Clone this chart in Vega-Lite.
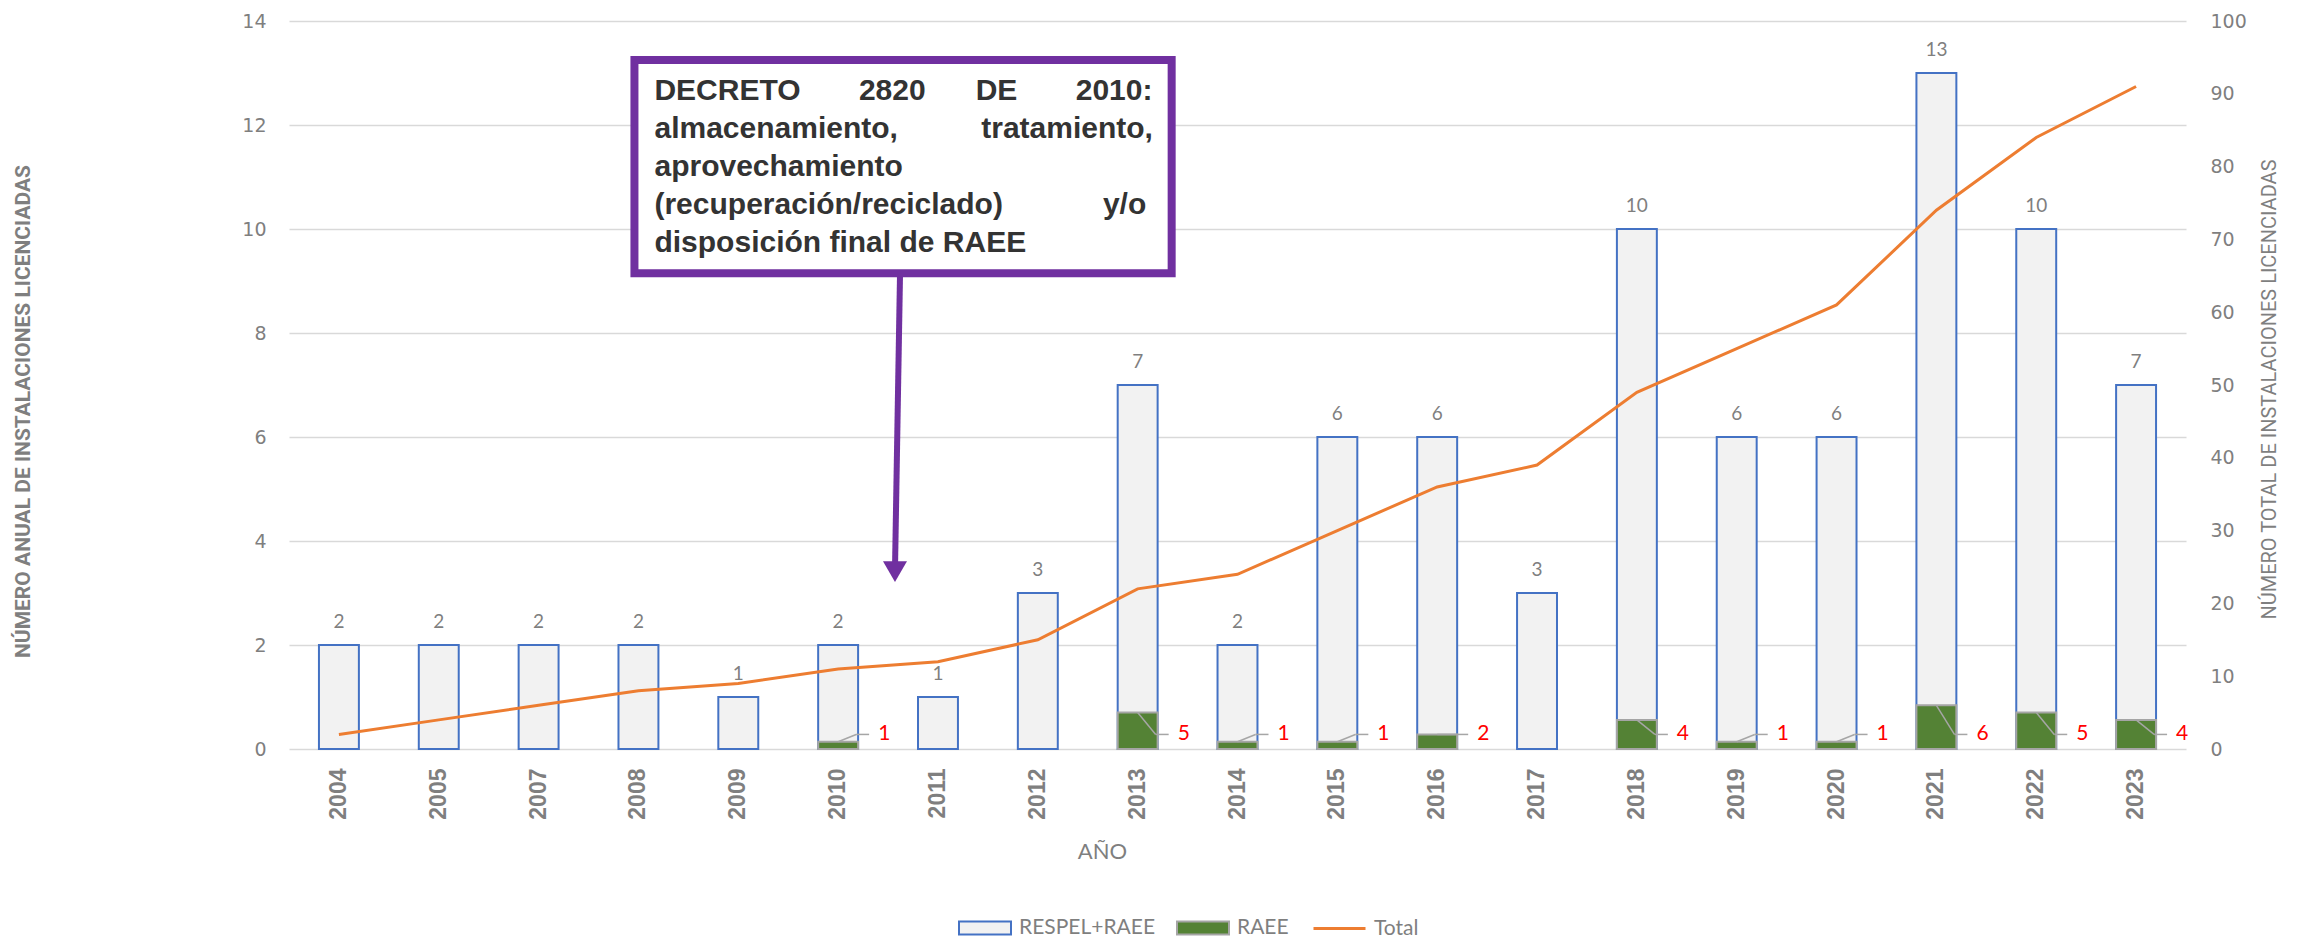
{
  "$schema": "https://vega.github.io/schema/vega-lite/v6.json",
  "autosize": {"type": "none"},
  "width": 1897,
  "height": 728,
  "padding": {"left": 289, "top": 21, "right": 114, "bottom": 193},
  "background": "white",
  "config": {
    "view": {"stroke": null},
    "font": "Lato",
    "legend": {
      "padding": 0,
      "symbolSize": 2704,
      "labelFont": "Lato",
      "labelFontSize": 21,
      "labelColor": "#7f7f7f",
      "labelOffset": 7,
      "symbolOpacity": 1
    }
  },
  "data": {
    "values": [
      {"year": "2004", "anual": 2, "raee": null, "total": 2},
      {"year": "2005", "anual": 2, "raee": null, "total": 4},
      {"year": "2007", "anual": 2, "raee": null, "total": 6},
      {"year": "2008", "anual": 2, "raee": null, "total": 8},
      {"year": "2009", "anual": 1, "raee": null, "total": 9},
      {"year": "2010", "anual": 2, "raee": 1, "total": 11},
      {"year": "2011", "anual": 1, "raee": null, "total": 12},
      {"year": "2012", "anual": 3, "raee": null, "total": 15},
      {"year": "2013", "anual": 7, "raee": 5, "total": 22},
      {"year": "2014", "anual": 2, "raee": 1, "total": 24},
      {"year": "2015", "anual": 6, "raee": 1, "total": 30},
      {"year": "2016", "anual": 6, "raee": 2, "total": 36},
      {"year": "2017", "anual": 3, "raee": null, "total": 39},
      {"year": "2018", "anual": 10, "raee": 4, "total": 49},
      {"year": "2019", "anual": 6, "raee": 1, "total": 55},
      {"year": "2020", "anual": 6, "raee": 1, "total": 61},
      {"year": "2021", "anual": 13, "raee": 6, "total": 74},
      {"year": "2022", "anual": 10, "raee": 5, "total": 84},
      {"year": "2023", "anual": 7, "raee": 4, "total": 91}
    ]
  },
  "layer": [
    {
      "layer": [
        {
          "mark": {"type": "bar", "stroke": "#4472c4", "strokeWidth": 2},
          "encoding": {
            "x": {
              "field": "year",
              "type": "ordinal",
              "title": "AÑO",
              "scale": {"paddingInner": 0.6, "paddingOuter": 0.3},
              "axis": {
                "orient": "bottom",
                "labelAngle": 270,
                "labelFont": "Liberation Sans",
                "labelFontWeight": "bold",
                "labelFontSize": 23,
                "labelColor": "#7f7f7f",
                "labelPadding": 19,
                "ticks": false,
                "tickSize": 0,
                "domain": false,
                "titleFont": "Lato",
                "titleFontSize": 22,
                "titleFontWeight": "normal",
                "titleColor": "#7f7f7f",
                "titleX": 813,
                "titleY": 102,
                "titleAlign": "center",
                "titleBaseline": "middle"
              }
            },
            "y": {
              "field": "anual",
              "type": "quantitative",
              "title": "NÚMERO  ANUAL DE INSTALACIONES LICENCIADAS",
              "scale": {"domain": [0, 14]},
              "axis": {
                "orient": "left",
                "values": [0, 2, 4, 6, 8, 10, 12, 14],
                "grid": true,
                "gridColor": "#d9d9d9",
                "gridWidth": 1.5,
                "ticks": false,
                "tickSize": 0,
                "domain": false,
                "labelFont": "DejaVu Sans",
                "labelFontSize": 19,
                "labelColor": "#7f7f7f",
                "labelPadding": 23,
                "titleFont": "Roboto",
                "titleFontWeight": "bold",
                "titleFontSize": 21,
                "titleColor": "#7f7f7f",
                "titleAngle": 270,
                "titleX": -266,
                "titleY": 390,
                "titleAlign": "center",
                "titleBaseline": "middle"
              }
            },
            "color": {
              "datum": "RESPEL+RAEE",
              "type": "nominal",
              "scale": {"domain": ["RESPEL+RAEE"], "range": ["#f2f2f2"]},
              "legend": {
                "title": null,
                "orient": "none",
                "legendX": 669,
                "legendY": 880,
                "symbolType": "M-1,-0.25H1V0.25H-1Z",
                "symbolStrokeColor": "#4472c4",
                "symbolStrokeWidth": 2
              }
            }
          }
        },
        {
          "mark": {"type": "text", "baseline": "bottom", "dy": -13, "font": "Lato", "fontSize": 19, "fill": "#7f7f7f"},
          "encoding": {
            "x": {"field": "year", "type": "ordinal", "axis": null},
            "y": {"field": "anual", "type": "quantitative", "scale": {"domain": [0, 14]}, "axis": null},
            "text": {"field": "anual", "type": "quantitative"}
          }
        },
        {
          "data": {"values": [{}]},
          "mark": {"type": "rect", "fill": "white", "stroke": "#7030a0", "strokeWidth": 8, "xOffset": -4, "x2Offset": 34},
          "encoding": {
            "x": {"datum": "2008", "type": "ordinal", "axis": null},
            "x2": {"datum": "2013"},
            "y": {"datum": 13.25, "type": "quantitative", "scale": {"domain": [0, 14]}, "axis": null},
            "y2": {"datum": 9.15}
          }
        },
        {
          "data": {"values": [{}]},
          "mark": {
            "type": "text",
            "align": "left",
            "baseline": "alphabetic",
            "font": "Liberation Sans",
            "fontWeight": "bold",
            "fontSize": 30,
            "lineHeight": 38,
            "fill": "#333333",
            "xOffset": 16,
            "text": [
              "DECRETO\u00a0\u00a0\u00a0\u00a0\u00a0\u00a0\u00a02820\u00a0\u00a0\u00a0\u00a0\u00a0\u00a0DE\u00a0\u00a0\u00a0\u00a0\u00a0\u00a0\u00a02010:",
              "almacenamiento,\u00a0\u00a0\u00a0\u00a0\u00a0\u00a0\u00a0\u00a0\u00a0\u00a0tratamiento,",
              "aprovechamiento",
              "(recuperación/reciclado)\u00a0\u00a0\u00a0\u00a0\u00a0\u00a0\u00a0\u00a0\u00a0\u00a0\u00a0\u00a0y/o",
              "disposición final de RAEE"
            ]
          },
          "encoding": {
            "x": {"datum": "2008", "type": "ordinal", "axis": null},
            "y": {"datum": 12.48, "type": "quantitative", "scale": {"domain": [0, 14]}, "axis": null}
          }
        },
        {
          "data": {"values": [{}]},
          "mark": {"type": "rule", "stroke": "#7030a0", "strokeWidth": 6, "xOffset": -38, "x2Offset": -43},
          "encoding": {
            "x": {"datum": "2011", "type": "ordinal", "axis": null},
            "x2": {"datum": "2011"},
            "y": {"datum": 9.08, "type": "quantitative", "scale": {"domain": [0, 14]}, "axis": null},
            "y2": {"datum": 3.44}
          }
        },
        {
          "data": {"values": [{}]},
          "mark": {"type": "point", "shape": "triangle-down", "filled": true, "fill": "#7030a0", "opacity": 1, "size": 576, "xOffset": -43},
          "encoding": {
            "x": {"datum": "2011", "type": "ordinal", "axis": null},
            "y": {"datum": 3.41, "type": "quantitative", "scale": {"domain": [0, 14]}, "axis": null}
          }
        }
      ],
      "resolve": {"axis": {"x": "independent", "y": "independent"}}
    },
    {
      "layer": [
        {
          "transform": [{"filter": "datum.raee != null"}],
          "mark": {"type": "bar", "stroke": "#a5a5a5", "strokeWidth": 2},
          "encoding": {
            "x": {"field": "year", "type": "ordinal", "axis": null},
            "y": {"field": "raee", "type": "quantitative", "scale": {"domain": [0, 100]}, "axis": null},
            "color": {
              "datum": "RAEE",
              "type": "nominal",
              "scale": {"domain": ["RAEE"], "range": ["#548235"]},
              "legend": {
                "title": null,
                "orient": "none",
                "legendX": 887,
                "legendY": 880,
                "symbolType": "M-1,-0.25H1V0.25H-1Z",
                "symbolStrokeColor": "#a5a5a5",
                "symbolStrokeWidth": 2
              }
            }
          }
        },
        {
          "mark": {"type": "line", "strokeWidth": 3},
          "encoding": {
            "x": {"field": "year", "type": "ordinal", "axis": null},
            "y": {
              "field": "total",
              "type": "quantitative",
              "title": "NÚMERO TOTAL DE INSTALACIONES LICENCIADAS",
              "scale": {"domain": [0, 100]},
              "axis": {
                "orient": "right",
                "values": [0, 10, 20, 30, 40, 50, 60, 70, 80, 90, 100],
                "grid": false,
                "ticks": false,
                "tickSize": 0,
                "domain": false,
                "labelFont": "DejaVu Sans",
                "labelFontSize": 19,
                "labelColor": "#7f7f7f",
                "labelPadding": 24,
                "titleFont": "Roboto",
                "titleFontWeight": "normal",
                "titleFontSize": 20,
                "titleColor": "#7f7f7f",
                "titleAngle": 270,
                "titleX": 83,
                "titleY": 368,
                "titleAlign": "center",
                "titleBaseline": "middle"
              }
            },
            "color": {
              "datum": "Total",
              "type": "nominal",
              "scale": {"domain": ["Total"], "range": ["#ed7d31"]},
              "legend": {
                "title": null,
                "orient": "none",
                "legendX": 1023,
                "legendY": 880,
                "symbolType": "stroke",
                "symbolStrokeWidth": 3
              }
            }
          }
        },
        {
          "transform": [{"filter": "datum.raee != null"}],
          "mark": {"type": "rule", "stroke": "#a6a6a6", "strokeWidth": 1.5, "x2Offset": 18},
          "encoding": {
            "x": {"field": "year", "type": "ordinal", "axis": null},
            "x2": {"field": "year"},
            "y": {"field": "raee", "type": "quantitative", "scale": {"domain": [0, 100]}, "axis": null},
            "y2": {"datum": 2}
          }
        },
        {
          "transform": [{"filter": "datum.raee != null"}],
          "mark": {"type": "rule", "stroke": "#a6a6a6", "strokeWidth": 1.5, "xOffset": 18, "x2Offset": 31},
          "encoding": {
            "x": {"field": "year", "type": "ordinal", "axis": null},
            "x2": {"field": "year"},
            "y": {"datum": 2, "type": "quantitative", "scale": {"domain": [0, 100]}, "axis": null}
          }
        },
        {
          "transform": [{"filter": "datum.raee != null"}],
          "mark": {"type": "text", "align": "left", "baseline": "middle", "dx": 40, "font": "Lato", "fontSize": 21, "fill": "#ff0000"},
          "encoding": {
            "x": {"field": "year", "type": "ordinal", "axis": null},
            "y": {"datum": 2, "type": "quantitative", "scale": {"domain": [0, 100]}, "axis": null},
            "text": {"field": "raee", "type": "quantitative"}
          }
        }
      ],
      "resolve": {"axis": {"x": "independent", "y": "independent"}, "scale": {"color": "independent"}}
    }
  ],
  "resolve": {"scale": {"y": "independent", "color": "independent"}, "axis": {"x": "independent", "y": "independent"}}
}
